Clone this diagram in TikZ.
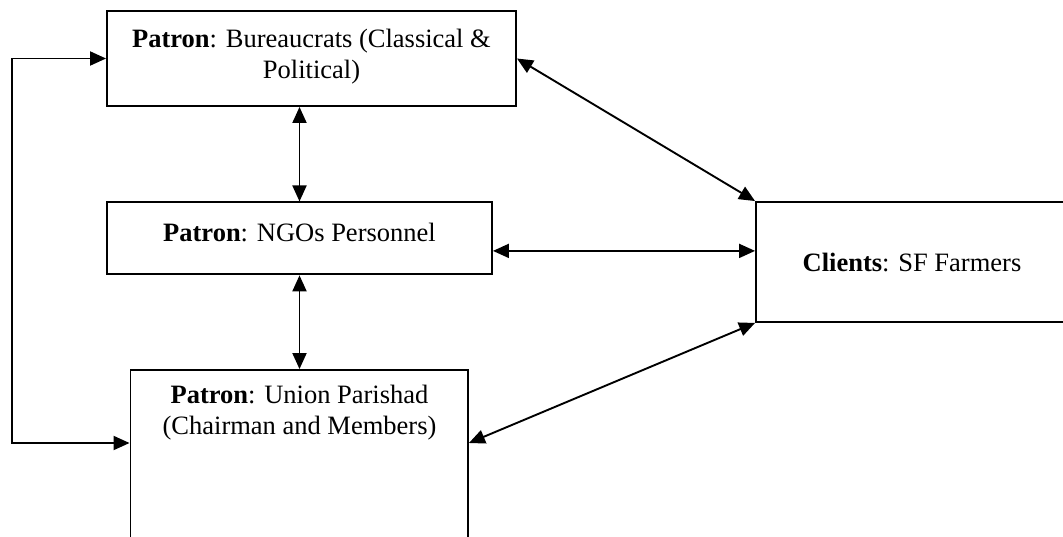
\documentclass[tikz,border=0pt]{standalone}
\usepackage{fontspec}
\setmainfont{Liberation Serif}
\usetikzlibrary{arrows.meta,calc}

\tikzset{
  box/.style={draw, line width=1.9pt, inner sep=0pt, fill=white},
  label/.style={inner sep=0pt, align=center,
    font=\fontsize{26.5pt}{31pt}\selectfont},
  conn/.style={line width=1.9pt, {Triangle[length=16pt,width=14pt]}-{Triangle[length=16pt,width=14pt]}}
}

\begin{document}
\begin{tikzpicture}[x=1pt, y=-1pt]
  \useasboundingbox (0,0) rectangle (1063,536);
  \clip (0,0) rectangle (1063,536);

  % boxes
  \node[box, minimum width=409pt, minimum height=95pt]  (bur) at (311.5,58.5) {};
  \node[box, minimum width=385pt, minimum height=72pt]  (ngo) at (299.5,238.4) {};
  \node[box, minimum width=337.5pt, minimum height=230pt] (up) at (299.25,485) {};
  \node[box, minimum width=364pt, minimum height=120pt] (cli) at (938,262) {};

  % box texts
  \node[label] (burtext) at (311.5,57) {\textbf{Patron}: Bureaucrats (Classical \&\\Political)};
  \node[label] (ngotext) at (299.5,232) {\textbf{Patron}: NGOs Personnel};
  \node[label] (uptext) at (299.5,413) {\textbf{Patron}: Union Parishad\\(Chairman and Members)};
  \node[label] (clitext) at (912,262) {\textbf{Clients}: SF Farmers};

  % connectors
  \coordinate (rail) at (12,0);
  \draw[conn] (ngo.north |- bur.south) -- (ngo.north);
  \draw[conn] (ngo.south) -- (ngo.south |- up.north);
  \draw[conn] ([yshift=-12.5pt]ngo.east) -- ([yshift=-12.5pt]ngo.east -| cli.west);
  \draw[conn] (bur.east) -- (cli.north west);
  \draw[conn] ([yshift=42pt]up.east) -- (cli.south west);
  \draw[conn] ([yshift=42pt]up.west) -- ([yshift=42pt]up.west -| rail) |- (bur.west);
\end{tikzpicture}
\end{document}
